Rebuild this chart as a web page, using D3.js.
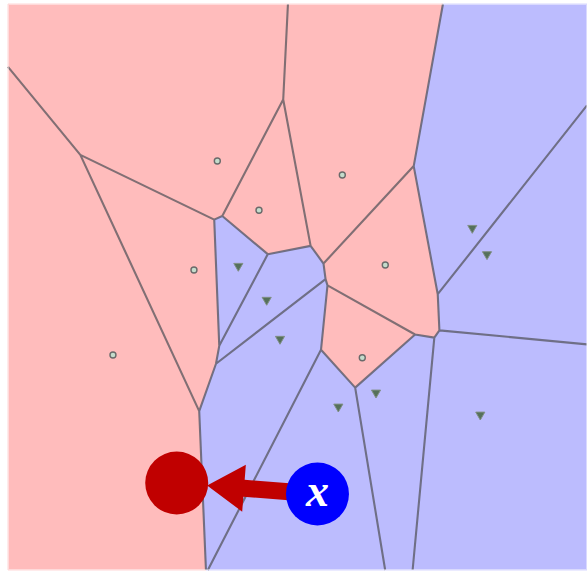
<!DOCTYPE html>
<html>
<head>
<meta charset="utf-8">
<script src="https://cdn.jsdelivr.net/npm/d3@7"></script>
<style>
  html, body { margin: 0; padding: 0; background: #fff; }
  svg { display: block; }
</style>
</head>
<body>
<div id="chart"></div>
<script>
// Training points in data units (x: 0..10, y: 0..6.5, y up).
const redX = [3.615, 4.335, 3.212, 1.813, 5.774, 6.516, 6.119];
const redY = [4.697, 4.131, 3.445, 2.469, 4.536, 3.503, 2.438];
const blueX = [3.978, 4.468, 4.698, 8.019, 8.273, 5.705, 6.356, 8.157];
const blueY = [3.491, 3.101, 2.653, 3.927, 3.625, 1.875, 2.036, 1.783];

// Test point x (blue) and where it is pushed to (red).
const queryPoint = [5.345, 0.873];
const targetPoint = [2.914, 0.999];
const queryLabel = "x";

const xDomain = [0, 10];
const yDomain = [0, 6.5];

const width = 587, height = 573;
const plot = { left: 8, right: 587, top: 4, bottom: 570 };

const colors = { red: "#ffbcbc", blue: "#bcbcfe", edge: "#505058" };

const x = d3.scaleLinear().domain(xDomain).range([plot.left, plot.right]);
const y = d3.scaleLinear().domain(yDomain).range([plot.bottom, plot.top]);

const sites = [
    ...redX.map((v, i) => ({ x: v, y: redY[i], cls: "red" })),
    ...blueX.map((v, i) => ({ x: v, y: blueY[i], cls: "blue" }))
];

const svg = d3.select("#chart").append("svg")
    .attr("width", width)
    .attr("height", height);

// Voronoi is computed in data space, then projected through the scales.
const delaunay = d3.Delaunay.from(sites, d => d.x, d => d.y);
const voronoi = delaunay.voronoi([xDomain[0], yDomain[0], xDomain[1], yDomain[1]]);

const line = d3.line().x(p => x(p[0])).y(p => y(p[1]));

svg.append("g")
    .selectAll("path")
    .data(sites)
    .join("path")
    .attr("d", (d, i) => line(voronoi.cellPolygon(i)) + "Z")
    .attr("fill", d => colors[d.cls])
    .attr("stroke", d => colors[d.cls])
    .attr("stroke-width", 0.6);

// interior edges only (render() leaves out the bounding box)
const edgePath = d3.path();
const scaledCtx = {
    moveTo: (a, b) => edgePath.moveTo(x(a), y(b)),
    lineTo: (a, b) => edgePath.lineTo(x(a), y(b)),
    closePath: () => edgePath.closePath()
};
voronoi.render(scaledCtx);

svg.append("path")
    .attr("d", edgePath.toString())
    .attr("fill", "none")
    .attr("stroke", colors.edge)
    .attr("stroke-opacity", 0.72)
    .attr("stroke-width", 2.1)
    .attr("stroke-linejoin", "round");

// faint light frame around the plot
svg.append("rect")
    .attr("x", plot.left + 0.5)
    .attr("y", plot.top + 0.5)
    .attr("width", plot.right - plot.left - 1)
    .attr("height", plot.bottom - plot.top - 1)
    .attr("fill", "none")
    .attr("stroke", "#fff")
    .attr("stroke-opacity", 0.45);

// site markers
const markers = svg.append("g");
markers.selectAll("circle")
    .data(sites.filter(d => d.cls === "red"))
    .join("circle")
    .attr("cx", d => x(d.x))
    .attr("cy", d => y(d.y))
    .attr("r", 3)
    .attr("fill", "#c4dccc")
    .attr("stroke", "#6a6a6a")
    .attr("stroke-width", 1.4);

const tri = d3.symbol().type(d3.symbolTriangle).size(36);
markers.selectAll("path")
    .data(sites.filter(d => d.cls === "blue"))
    .join("path")
    .attr("d", tri)
    .attr("transform", d => `translate(${x(d.x)},${y(d.y)}) rotate(180)`)
    .attr("fill", "#55705b")
    .attr("stroke", "#808f85")
    .attr("stroke-width", 1);

// arrow from the query point to its perturbed position
const qx = x(queryPoint[0]), qy = y(queryPoint[1]);
const tx = x(targetPoint[0]), ty = y(targetPoint[1]);
const R = 31.5;
const ang = Math.atan2(ty - qy, tx - qx);
const ux = Math.cos(ang), uy = Math.sin(ang);
const px = -uy, py = ux;
const tipX = tx - ux * (R - 1), tipY = ty - uy * (R - 1);
const headLen = 37, headHalf = 23.5, shaftHalf = 8.5;
const baseX = tipX - ux * headLen, baseY = tipY - uy * headLen;
const startX = qx, startY = qy;

const arrowPts = [
    [startX + px * shaftHalf, startY + py * shaftHalf],
    [baseX + px * shaftHalf, baseY + py * shaftHalf],
    [baseX + px * headHalf, baseY + py * headHalf],
    [tipX, tipY],
    [baseX - px * headHalf, baseY - py * headHalf],
    [baseX - px * shaftHalf, baseY - py * shaftHalf],
    [startX - px * shaftHalf, startY - py * shaftHalf]
];

svg.append("circle")
    .attr("cx", tx).attr("cy", ty).attr("r", R)
    .attr("fill", "#c00000");

svg.append("path")
    .attr("d", d3.line()(arrowPts) + "Z")
    .attr("fill", "#c00000");

svg.append("circle")
    .attr("cx", qx).attr("cy", qy).attr("r", R)
    .attr("fill", "#0000ff");

svg.append("text")
    .attr("x", qx)
    .attr("y", qy)
    .attr("dy", "0.26em")
    .attr("text-anchor", "middle")
    .attr("fill", "#fff")
    .attr("font-family", "'Liberation Serif', 'DejaVu Serif', serif")
    .attr("font-style", "italic")
    .attr("font-weight", "bold")
    .attr("font-size", 46)
    .text(queryLabel);
</script>
</body>
</html>
